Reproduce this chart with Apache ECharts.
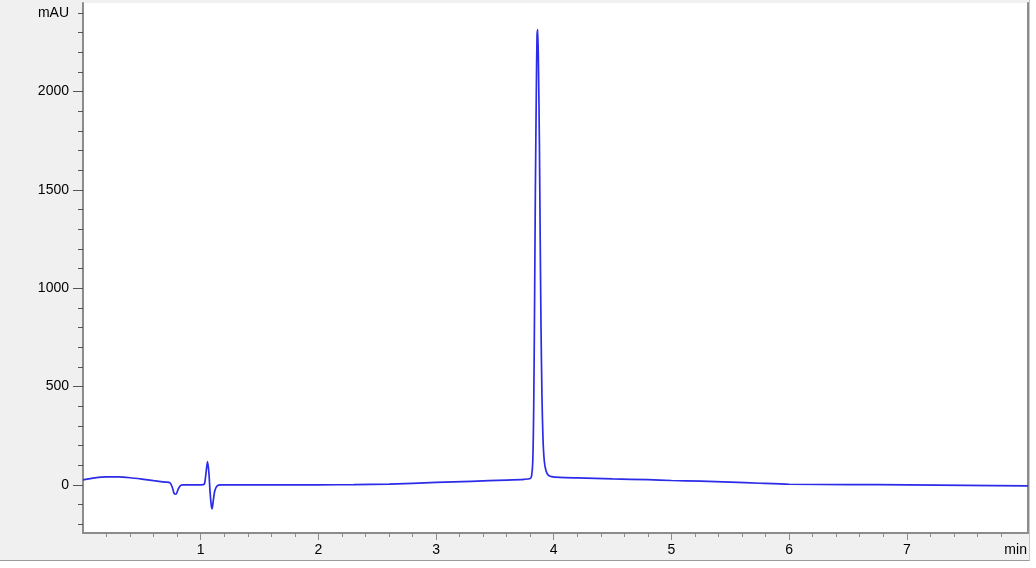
<!DOCTYPE html>
<html>
<head>
<meta charset="utf-8">
<script src="https://cdn.jsdelivr.net/npm/echarts@6/dist/echarts.min.js"></script>
<style>
html,body{margin:0;padding:0;background:#fff;}
#panel{position:absolute;left:0;top:0;width:1029px;height:560px;background:#f0f0f0;border-right:1px solid #c8c8c8;border-bottom:1px solid #9a9a9a;}
#chart{position:absolute;left:0;top:0;width:1036px;height:568px;}
</style>
</head>
<body>
<div id="panel"></div>
<div id="chart"></div>
<script>
// retention time (min)
const timeMin = [0.00,0.10,0.20,0.30,0.40,0.50,0.60,0.70,0.74,0.76,0.775,0.79,0.81,0.83,0.85,0.90,1.00,1.03,1.045,1.058,1.07,1.08,1.09,1.097,1.105,1.12,1.14,1.17,1.30,1.60,2.00,2.30,2.60,3.00,3.30,3.60,3.75,3.80,3.812,3.822,3.830,3.837,3.844,3.852,3.858,3.864,3.871,3.878,3.885,3.892,3.900,3.909,3.920,3.935,3.955,3.98,4.05,4.20,4.50,4.80,5.00,5.25,5.50,5.75,6.00,6.50,7.00,7.50,8.03];
// absorbance (mAU)
const signalMAU = [25,35,40,40,36,29,21,14,10,-15,-45,-48,-20,-3,0,0,0,3,60,118,60,-40,-105,-122,-90,-30,-5,0,0,0,0,1,4,12,18,24,28,32,45,120,400,900,1500,2000,2280,2315,2100,1750,1250,800,450,230,120,70,48,42,38,35,30,26,22,19,14,8,3,1,0,-3,-5];
// axis tick values
const yMajorTicks = [0,500,1000,1500,2000];
const yMinorTicks = [-200,-100,100,200,300,400,600,700,800,900,1100,1200,1300,1400,1600,1700,1800,1900,2100,2200,2300,2400];
const yLabelValues = [0,500,1000,1500,2000,2400];
const xMajorTicks = [1,2,3,4,5,6,7];
const xMinorTicks = [0.2,0.4,0.6,0.8,1.2,1.4,1.6,1.8,2.2,2.4,2.6,2.8,3.2,3.4,3.6,3.8,4.2,4.4,4.6,4.8,5.2,5.4,5.6,5.8,6.2,6.4,6.6,6.8,7.2,7.4,7.6,7.8];
const xLabelValues = [1,2,3,4,5,6,7,7.925];

const chart = echarts.init(document.getElementById('chart'));
const font = {color:'#000', fontSize:14, fontFamily:'Liberation Sans, Arial, sans-serif'};
const axisGray = {color:'#8c8c8c', width:2};
const xMin = 0, xMax = 8.03, yMin = -245, yMax = 2450;

const option = {
  backgroundColor:'transparent',
  animation:false,
  grid:{left:83, right:8, top:3, bottom:35, show:true, backgroundColor:'#fff', borderWidth:0, containLabel:false},
  xAxis:[
    {type:'value', min:xMin, max:xMax, position:'bottom',
     axisLine:{show:true, onZero:false, lineStyle:axisGray},
     axisTick:{show:true, length:7, lineStyle:{color:'#8c8c8c', width:1}, customValues:xMajorTicks},
     axisLabel:{show:true, margin:10, ...font, customValues:xLabelValues,
       formatter:v=> (v > 7.5 ? 'min' : String(Math.round(v)))},
     splitLine:{show:false}},
    {type:'value', min:xMin, max:xMax, position:'bottom',
     axisLine:{show:false, onZero:false},
     axisTick:{show:true, length:4, lineStyle:{color:'#8c8c8c', width:1}, customValues:xMinorTicks},
     axisLabel:{show:false}, splitLine:{show:false}}
  ],
  yAxis:[
    {type:'value', min:yMin, max:yMax, position:'left',
     axisLine:{show:true, onZero:false, lineStyle:axisGray},
     axisTick:{show:true, length:10, lineStyle:{color:'#555', width:1}, customValues:yMajorTicks},
     axisLabel:{show:true, margin:14, ...font, customValues:yLabelValues,
       formatter:v=> (v === 2400 ? 'mAU' : String(v))},
     splitLine:{show:false}},
    {type:'value', min:yMin, max:yMax, position:'left',
     axisLine:{show:false, onZero:false},
     axisTick:{show:true, length:5, lineStyle:{color:'#555', width:1}, customValues:yMinorTicks},
     axisLabel:{show:false}, splitLine:{show:false}},
    {type:'value', min:yMin, max:yMax, position:'right',
     axisLine:{show:true, onZero:false, lineStyle:axisGray},
     axisTick:{show:false}, axisLabel:{show:false}, splitLine:{show:false}}
  ],
  series:[{
    type:'line', xAxisIndex:0, yAxisIndex:0,
    data: timeMin.map((t,i)=>[t, signalMAU[i]]),
    showSymbol:false, smooth:0.25,
    lineStyle:{color:'#2b2be8', width:1.7},
    clip:true
  }]
};
chart.setOption(option);
</script>
</body>
</html>
